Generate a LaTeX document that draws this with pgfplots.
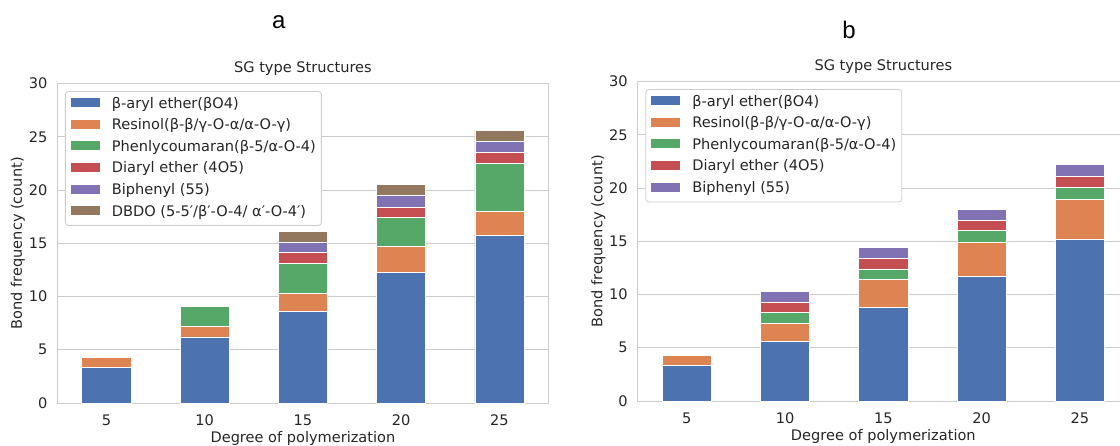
\documentclass[border=0pt]{standalone}
\usepackage{fontspec}
\setmainfont{DejaVu Sans}
\newfontfamily\labelfont{Liberation Sans}
\usepackage{pgfplots}
\pgfplotsset{compat=1.18}
\usepackage{pgfplotstable}

\definecolor{c1}{HTML}{4C72B0}
\definecolor{c2}{HTML}{DD8452}
\definecolor{c3}{HTML}{55A868}
\definecolor{c4}{HTML}{C44E52}
\definecolor{c5}{HTML}{8172B3}
\definecolor{c6}{HTML}{937860}
\definecolor{gridc}{HTML}{CCCCCC}
\definecolor{txt}{HTML}{262626}

\newcommand{\fsz}{\fontsize{14.56}{17}\selectfont}

\pgfplotstableread{
x  b    o    g    r    p    d
0  3.3  1.0  0    0    0    0
1  6.2  1.0  1.9  0    0    0
2  8.6  1.7  2.8  1.0  1.0  1.0
3  12.3 2.4  2.7  1.0  1.1  1.0
4  15.7 2.3  4.5  1.0  1.1  1.0
}\tabA

\pgfplotstableread{
x  b    o    g    r    p
0  3.3  1.0  0    0    0
1  5.6  1.7  1.0  1.0  1.0
2  8.8  2.6  1.0  1.0  1.0
3  11.7 3.2  1.1  1.0  1.0
4  15.2 3.7  1.2  1.0  1.1
}\tabB

\pgfplotsset{
  panel/.style={
    scale only axis, width=491.3pt, height=319.4pt,
    xmin=-0.5, xmax=4.5, ymin=0, ymax=30,
    ybar stacked, bar width=0.5,
    xtick={0,1,2,3,4}, xticklabels={5,10,15,20,25},
    ytick={0,5,...,30},
    ymajorgrids, grid style={draw=gridc, line width=1pt},
    axis line style={draw=gridc, line width=1pt},
    major tick length=0pt,
    tick label style={font=\fsz, text=txt},
    /pgf/number format/assume math mode=true,
    xticklabel style={anchor=base, inner sep=0pt, yshift=-22.6pt},
    yticklabel style={anchor=east, inner sep=0pt, xshift=-9.8pt},
    xlabel={Degree of polymerization},
    ylabel={Bond frequency (count)},
    xlabel style={at={(axis description cs:0.5,-0.1222)}, anchor=base, font=\fsz, text=txt},
    ylabel style={at={(axis description cs:-0.0719,0.5)}, anchor=base, font=\fsz, text=txt},
    title={SG type Structures},
    title style={at={(axis description cs:0.5,1)}, anchor=base, yshift=4.8pt, font=\fsz, text=txt},
    legend style={at={(axis description cs:0.01567,0.9765)}, anchor=north west,
      draw=gridc, line width=0.8pt, rounded corners=3pt, fill=white,
      inner sep=5.5pt, font=\fsz, text=txt, row sep=6.6pt, column sep=12pt,
      nodes={inner sep=0pt, text height=11pt, text depth=4pt},
      cells={anchor=base west}},
    legend image code/.code={\fill[#1, draw=none, sharp corners] (0pt,0.8pt) rectangle (29pt,9.8pt);},
  },
  barst/.style={fill=#1, draw=white, line width=0.8pt},
}

\begin{document}
\begin{tikzpicture}
\useasboundingbox (0pt,0pt) rectangle (1120pt,445pt);
\begin{axis}[panel, at={(57.3pt,42pt)}, anchor=south west]
\addplot[barst=c1] table[x=x,y=b] {\tabA};
\addplot[barst=c2] table[x=x,y=o] {\tabA};
\addplot[barst=c3] table[x=x,y=g] {\tabA};
\addplot[barst=c4] table[x=x,y=r] {\tabA};
\addplot[barst=c5] table[x=x,y=p] {\tabA};
\addplot[barst=c6] table[x=x,y=d] {\tabA};
\legend{β-aryl ether(βO4),Resinol(β-β/γ-O-α/α-O-γ),Phenlycoumaran(β-5/α-O-4),Diaryl ether (4O5),Biphenyl (55),DBDO (5-5′/β′-O-4/ α′-O-4′)}
\end{axis}
\begin{axis}[panel, at={(637.7pt,44pt)}, anchor=south west]
\addplot[barst=c1] table[x=x,y=b] {\tabB};
\addplot[barst=c2] table[x=x,y=o] {\tabB};
\addplot[barst=c3] table[x=x,y=g] {\tabB};
\addplot[barst=c4] table[x=x,y=r] {\tabB};
\addplot[barst=c5] table[x=x,y=p] {\tabB};
\legend{β-aryl ether(βO4),Resinol(β-β/γ-O-α/α-O-γ),Phenlycoumaran(β-5/α-O-4),Diaryl ether (4O5),Biphenyl (55)}
\end{axis}
\node[font=\labelfont\fontsize{24}{28}\selectfont, anchor=base, inner sep=0pt] at (278.8pt,416.7pt) {a};
\node[font=\labelfont\fontsize{24}{28}\selectfont, anchor=base, inner sep=0pt] at (849pt,406.7pt) {b};
\end{tikzpicture}
\end{document}
